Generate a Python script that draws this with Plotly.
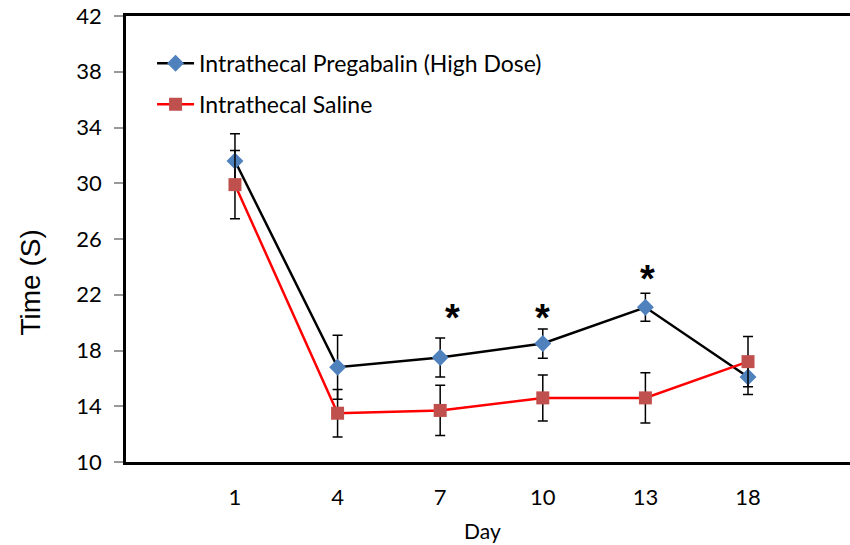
import plotly.graph_objects as go

days = ["1", "4", "7", "10", "13", "18"]
pregabalin = [31.6, 16.8, 17.5, 18.5, 21.1, 16.1]
pregabalin_err = [1.95, 2.3, 1.4, 1.05, 1.0, 1.25]
saline = [29.9, 13.5, 13.7, 14.6, 14.6, 17.2]
saline_err = [2.45, 1.7, 1.8, 1.65, 1.8, 1.8]
sig_days = [2, 3, 4]          # indices of days marked with *
sig_y = [20.35, 20.35, 23.1]
sig_dx = [0.12, 0.0, 0.02]
y_ticks = list(range(10, 43, 4))

xpos = list(range(len(days)))
font_main = "Lato"

fig = go.Figure()
fig.add_trace(go.Scatter(
    x=xpos, y=pregabalin, name="Intrathecal Pregabalin (High Dose)",
    mode="lines+markers",
    line=dict(color="black", width=2.5),
    marker=dict(symbol="diamond", size=13, color="#4F81BD"),
    error_y=dict(type="data", array=pregabalin_err, color="black", thickness=1.5, width=5),
    legendgroup="a",
))
fig.add_trace(go.Scatter(
    x=xpos, y=saline, name="Intrathecal Saline",
    mode="lines+markers",
    line=dict(color="#FF0000", width=2.5),
    marker=dict(symbol="square", size=13, color="#C0504D"),
    error_y=dict(type="data", array=saline_err, color="black", thickness=1.5, width=5),
    legendgroup="b",
))

for i, yv, dx in zip(sig_days, sig_y, sig_dx):
    fig.add_annotation(x=xpos[i] + dx, y=yv, text="<b>*</b>", showarrow=False,
                       font=dict(family="Liberation Sans", size=38, color="black"),
                       xanchor="center", yanchor="middle")

# axis titles
fig.add_annotation(xref="paper", yref="paper", x=0, y=0.4025, xshift=-96,
                   text="Time (S)", textangle=-90, showarrow=False,
                   xanchor="center", yanchor="middle",
                   font=dict(family="Liberation Sans", size=28, color="black"))
fig.add_annotation(xref="paper", yref="paper", x=0.493, y=-0.1525,
                   text="Day", showarrow=False, xanchor="center", yanchor="middle",
                   font=dict(family=font_main, size=21, color="black"))

fig.update_layout(
    width=850, height=545,
    margin=dict(l=126, r=0, t=16, b=83),
    plot_bgcolor="white", paper_bgcolor="white",
    showlegend=True,
    legend=dict(x=0.036, y=0.942, xanchor="left", yanchor="top",
                font=dict(family=font_main, size=23, color="black"),
                tracegroupgap=8, bgcolor="rgba(0,0,0,0)", itemwidth=37),
    xaxis=dict(
        range=[-1.062, 5.994], tickmode="array", tickvals=xpos, ticktext=days,
        showgrid=False, zeroline=False, showline=True, linecolor="black", linewidth=2.5,
        mirror=True, ticks="", ticklabelstandoff=14,
        tickfont=dict(family=font_main, size=22, color="black"),
    ),
    yaxis=dict(
        range=[10, 42], tickmode="array", tickvals=y_ticks,
        showgrid=False, zeroline=False, showline=True, linecolor="black", linewidth=2.5,
        ticks="outside", ticklen=9, tickcolor="#999999", tickwidth=1.5,
        ticklabelstandoff=8, ticklabeloverflow="allow",
        tickfont=dict(family=font_main, size=22, color="black"),
    ),
)

fig.write_html("out.html", config={"displayModeBar": False},
               post_script="document.body.style.margin='0';document.body.style.overflow='hidden';")
